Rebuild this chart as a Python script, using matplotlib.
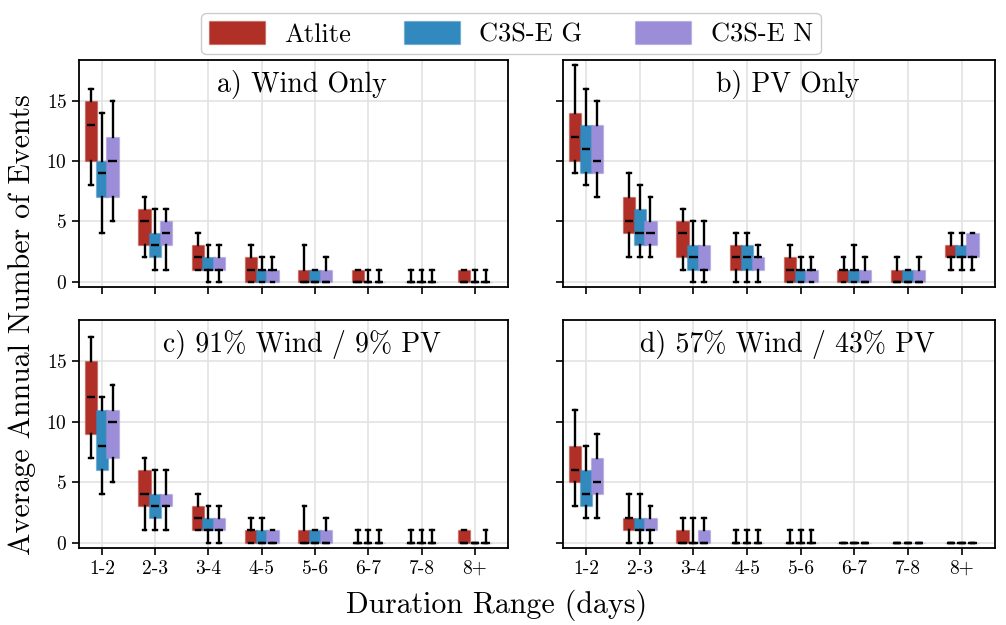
import numpy as np
import matplotlib
matplotlib.use('Agg')
import matplotlib.pyplot as plt
from matplotlib.patches import Patch
from matplotlib.colors import to_rgba

plt.rcParams['font.family'] = ['cmr10', 'DejaVu Serif']
plt.rcParams['mathtext.fontset'] = 'cm'
plt.rcParams['axes.unicode_minus'] = False
plt.rcParams['axes.formatter.use_mathtext'] = True

durations = ['1-2', '2-3', '3-4', '4-5', '5-6', '6-7', '7-8', '8+']
series = ['Atlite', 'C3S-E G', 'C3S-E N']
colors = ['#b02f27', '#3289bd', '#9b8dd7']
titles = ['a) Wind Only', 'b) PV Only', 'c) 91% Wind / 9% PV', 'd) 57% Wind / 43% PV']

# box stats per duration: (whislo, q1, median, q3, whishi)
wind_atlite = [(8, 10, 13, 15, 16), (2, 3, 5, 6, 7), (1, 1, 2, 3, 4), (0, 0, 1, 2, 3),
               (0, 0, 0, 1, 3), (0, 0, 0, 1, 1), (0, 0, 0, 0, 1), (0, 0, 0, 1, 1)]
wind_g = [(4, 7, 9, 10, 14), (1, 2, 3, 4, 6), (0, 1, 1, 2, 3), (0, 0, 1, 1, 2),
          (0, 0, 0, 1, 1), (0, 0, 0, 0, 1), (0, 0, 0, 0, 1), (0, 0, 0, 0, 1)]
wind_n = [(5, 7, 10, 12, 15), (1, 3, 4, 5, 6), (0, 1, 1, 2, 3), (0, 0, 1, 1, 2),
          (0, 0, 0, 1, 2), (0, 0, 0, 0, 1), (0, 0, 0, 0, 1), (0, 0, 0, 0, 1)]

pv_atlite = [(9, 10, 12, 14, 18), (2, 4, 5, 7, 9), (1, 2, 4, 5, 6), (0, 1, 2, 3, 4),
             (0, 0, 1, 2, 3), (0, 0, 1, 1, 2), (0, 0, 0, 1, 2), (1, 2, 2, 3, 4)]
pv_g = [(8, 9, 11, 13, 16), (2, 3, 4, 6, 8), (0, 1, 2, 3, 5), (0, 1, 2, 3, 4),
        (0, 0, 1, 1, 2), (0, 0, 1, 1, 3), (0, 0, 0, 1, 1), (1, 2, 2, 3, 4)]
pv_n = [(7, 9, 10, 13, 15), (2, 3, 4, 5, 7), (0, 1, 1, 3, 5), (0, 1, 2, 2, 3),
        (0, 0, 1, 1, 2), (0, 0, 0, 1, 2), (0, 0, 0, 1, 2), (1, 2, 2, 4, 4)]

mix91_atlite = [(7, 9, 12, 15, 17), (1, 3, 4, 6, 7), (1, 1, 2, 3, 4), (0, 0, 1, 1, 2),
                (0, 0, 0, 1, 3), (0, 0, 0, 0, 1), (0, 0, 0, 0, 1), (0, 0, 0, 1, 1)]
mix91_g = [(4, 6, 8, 11, 12), (1, 2, 3, 4, 6), (0, 1, 1, 2, 3), (0, 0, 0, 1, 2),
           (0, 0, 0, 1, 1), (0, 0, 0, 0, 1), (0, 0, 0, 0, 1), (0, 0, 0, 0, 0)]
mix91_n = [(5, 7, 10, 11, 13), (1, 3, 3, 4, 6), (0, 1, 1, 2, 3), (0, 0, 0, 1, 1),
           (0, 0, 0, 1, 2), (0, 0, 0, 0, 1), (0, 0, 0, 0, 1), (0, 0, 0, 0, 1)]

mix57_atlite = [(3, 5, 6, 8, 11), (0, 1, 2, 2, 4), (0, 0, 0, 1, 2), (0, 0, 0, 0, 1),
                (0, 0, 0, 0, 1), (0, 0, 0, 0, 0), (0, 0, 0, 0, 0), (0, 0, 0, 0, 0)]
mix57_g = [(2, 3, 4, 6, 8), (0, 1, 1, 2, 4), (0, 0, 0, 0, 2), (0, 0, 0, 0, 1),
           (0, 0, 0, 0, 1), (0, 0, 0, 0, 0), (0, 0, 0, 0, 0), (0, 0, 0, 0, 0)]
mix57_n = [(2, 4, 5, 7, 9), (0, 1, 1, 2, 3), (0, 0, 0, 1, 2), (0, 0, 0, 0, 1),
           (0, 0, 0, 0, 1), (0, 0, 0, 0, 0), (0, 0, 0, 0, 0), (0, 0, 0, 0, 0)]

panels = [[wind_atlite, wind_g, wind_n],
          [pv_atlite, pv_g, pv_n],
          [mix91_atlite, mix91_g, mix91_n],
          [mix57_atlite, mix57_g, mix57_n]]

fig = plt.figure(figsize=(10.06, 6.25), dpi=100)
rects = [[0.0785, 0.5408, 0.4264, 0.3632], [0.5596, 0.5408, 0.4294, 0.3632],
         [0.0785, 0.1232, 0.4264, 0.3648], [0.5596, 0.1232, 0.4294, 0.3648]]

x = np.arange(1, len(durations) + 1)
offsets = [-0.2, 0.0, 0.2]

for p in range(4):
    ax = fig.add_axes(rects[p])
    for s in range(3):
        stats = []
        for row in panels[p][s]:
            stats.append({'whislo': row[0], 'q1': row[1], 'med': row[2],
                          'q3': row[3], 'whishi': row[4], 'fliers': []})
        bp = ax.bxp(stats, positions=x + offsets[s], widths=0.23, capwidths=0.07,
                    patch_artist=True, showfliers=False, manage_ticks=False,
                    boxprops=dict(facecolor=colors[s], edgecolor=to_rgba(colors[s], 0.35), linewidth=1.0),
                    whiskerprops=dict(color='black', linewidth=1.7),
                    capprops=dict(color='black', linewidth=1.7),
                    medianprops=dict(color='black', linewidth=1.7))
        # shorter median ticks like the original
        for ln in bp['medians']:
            xd = np.asarray(ln.get_xdata(), dtype=float)
            c = xd.mean()
            h = (xd.max() - xd.min()) / 2 * 0.68
            ln.set_xdata([c - h, c + h])
    ax.set_xlim(0.57, 8.62)
    ax.set_ylim(-0.45, 18.4)
    ax.set_xticks(x)
    ax.set_yticks([0, 5, 10, 15])
    ax.grid(True, color='#e3e3e3', linewidth=1.2)
    ax.set_axisbelow(True)
    for sp in ax.spines.values():
        sp.set_linewidth(1.3)
    ax.tick_params(width=1.2, length=5, labelsize=14)
    if p < 2:
        ax.set_xticklabels([])
    else:
        ax.set_xticklabels(durations)
    if p % 2 == 1:
        ax.set_yticklabels([])
    ax.text(0.52, 0.893, titles[p], transform=ax.transAxes, ha='center', va='center', fontsize=20)

fig.text(0.022, 0.48, 'Average Annual Number of Events', rotation=90, ha='center', va='center', fontsize=21.5)
fig.text(0.494, 0.032, 'Duration Range (days)', ha='center', va='center', fontsize=21.5)

handles = [Patch(facecolor=colors[i], edgecolor=to_rgba(colors[i], 0.35), linewidth=1.0) for i in range(3)]
fig.legend(handles, series, loc='upper center', bbox_to_anchor=(0.508, 1.0), ncol=3, fontsize=19,
           handlelength=2.1, handleheight=0.95, handletextpad=0.75, columnspacing=2.0,
           framealpha=1, edgecolor='#cccccc', borderpad=0.3)

fig.savefig('out.png', dpi=100)
